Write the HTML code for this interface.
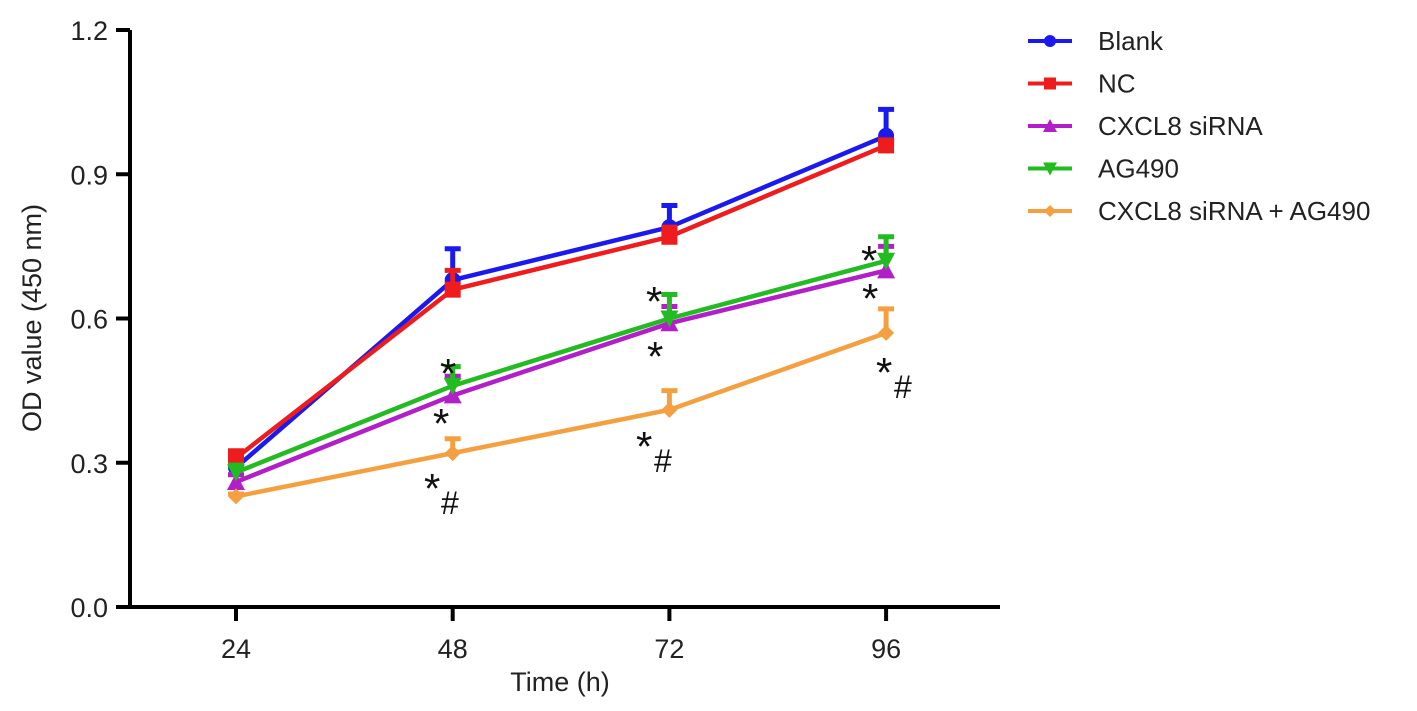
<!DOCTYPE html>
<html><head><meta charset="utf-8"><style>
html,body{margin:0;padding:0;background:#fff;}
svg{display:block;font-family:"Liberation Sans",Arial,sans-serif;}
</style></head><body>
<svg id="chart" width="1417" height="711" viewBox="0 0 1417 711">
<g id="axes"></g><g id="series"></g><g id="legend"></g>
<g font-size="42" fill="#111">
<text x="440" y="388">*</text><text x="433" y="438">*</text>
<text x="424" y="503">*</text><text x="441" y="514" font-size="32">#</text>
<text x="646" y="316">*</text><text x="647" y="371">*</text>
<text x="636" y="461">*</text><text x="654" y="472" font-size="32">#</text>
<text x="861" y="275">*</text><text x="862" y="313">*</text>
<text x="876" y="387">*</text><text x="894" y="398" font-size="32">#</text>
</g>
</svg>
<script>
const categories = [24, 48, 72, 96];
const yTicks = [0.0, 0.3, 0.6, 0.9, 1.2];
const seriesNames = ["Blank", "NC", "CXCL8 siRNA", "AG490", "CXCL8 siRNA + AG490"];
const blankValues = [0.29, 0.68, 0.79, 0.98];
const blankErr = [0.03, 0.065, 0.045, 0.055];
const ncValues = [0.31, 0.66, 0.77, 0.96];
const ncErr = [0.015, 0.04, 0.02, 0.01];
const sirnaValues = [0.26, 0.44, 0.59, 0.70];
const sirnaErr = [0.015, 0.04, 0.035, 0.05];
const ag490Values = [0.28, 0.46, 0.60, 0.72];
const ag490Err = [0.015, 0.04, 0.05, 0.05];
const comboValues = [0.23, 0.32, 0.41, 0.57];
const comboErr = [0.005, 0.03, 0.04, 0.05];

const NS="http://www.w3.org/2000/svg";
const X0=130,X1=1000,Y0=607,Y1=30;
const xs=c=>236+(categories.indexOf(c))*216.7;
const ys=v=>Y0-(v/1.2)*(Y0-Y1);
function el(tag,attrs,parent){const e=document.createElementNS(NS,tag);for(const k in attrs)e.setAttribute(k,attrs[k]);parent.appendChild(e);return e;}
const axes=document.getElementById('axes');
let a=el('path',{d:`M${X0},${Y1}V${Y0}H${X1}`,fill:'none',stroke:'#000','stroke-width':4},axes);

yTicks.forEach(t=>{
 const y=ys(t);
 const l=el('line',{x1:X0-14,x2:X0,y1:y,y2:y,stroke:'#000','stroke-width':4},axes);
 
 const tx=el('text',{x:X0-22,y:y+10,'text-anchor':'end','font-size':27,fill:'#222'},axes);
 tx.textContent=t.toFixed(1);
 
});
categories.forEach(c=>{
 const x=xs(c);
 const l=el('line',{x1:x,x2:x,y1:Y0,y2:Y0+14,stroke:'#000','stroke-width':4},axes);
 
 const tx=el('text',{x:x,y:Y0+51,'text-anchor':'middle','font-size':27,fill:'#222'},axes);
 tx.textContent=c;
 
});
let xt=el('text',{x:560,y:691,'text-anchor':'middle','font-size':27,fill:'#222'},axes);
xt.textContent='Time (h)';
let yt=el('text',{x:0,y:0,transform:'translate(41,318) rotate(-90)','text-anchor':'middle','font-size':27,fill:'#222'},axes);
yt.textContent='OD value (450 nm)';

const colors=['#1a1aee','#ee1c1c','#b21fc8','#22bb22','#f5a040'];
const vals=[blankValues,ncValues,sirnaValues,ag490Values,comboValues];
const errs=[blankErr,ncErr,sirnaErr,ag490Err,comboErr];
const shapes=['circle','square','tri','tridown','diamond'];
function marker(g,shape,x,y,col,s){
 if(shape==='circle')return el('circle',{cx:x,cy:y,r:s,fill:col},g);
 if(shape==='square')return el('rect',{x:x-s,y:y-s,width:2*s,height:2*s,fill:col},g);
 if(shape==='tri')return el('path',{d:`M${x},${y-s-1}L${x+s+1},${y+s}L${x-s-1},${y+s}Z`,fill:col},g);
 if(shape==='tridown')return el('path',{d:`M${x},${y+s+1}L${x+s+1},${y-s}L${x-s-1},${y-s}Z`,fill:col},g);
 return el('path',{d:`M${x},${y-s}L${x+s},${y}L${x},${y+s}L${x-s},${y}Z`,fill:col},g);
}
const sg=document.getElementById('series');
vals.forEach((v,i)=>{
 const g=el('g',{},sg);
 
 
 categories.forEach((c,j)=>{
  const x=xs(c),y=ys(v[j]),ye=ys(v[j]+errs[i][j]);
  const e=el('path',{d:`M${x},${y}V${ye}M${x-8},${ye}H${x+8}`,stroke:colors[i],'stroke-width':5,fill:'none'},g);
  
 });
 const p=el('polyline',{points:categories.map((c,j)=>xs(c)+','+ys(v[j])).join(' '),fill:'none',stroke:colors[i],'stroke-width':4.5},g);
 
 categories.forEach((c,j)=>{
  const m=marker(g,shapes[i],xs(c),ys(v[j]),colors[i],8);
  
 });
});
const lg=document.getElementById('legend');
seriesNames.forEach((n,i)=>{
 const y=41+i*42.5;
 const g=el('g',{},lg);
 
 el('line',{x1:1028,x2:1072,y1:y,y2:y,stroke:colors[i],'stroke-width':4},g);
 marker(g,shapes[i],1050,y,colors[i],6);
 const t=el('text',{x:1098,y:y+9,'font-size':26,fill:'#222'},g);t.textContent=n;
});
</script>
</body></html>
